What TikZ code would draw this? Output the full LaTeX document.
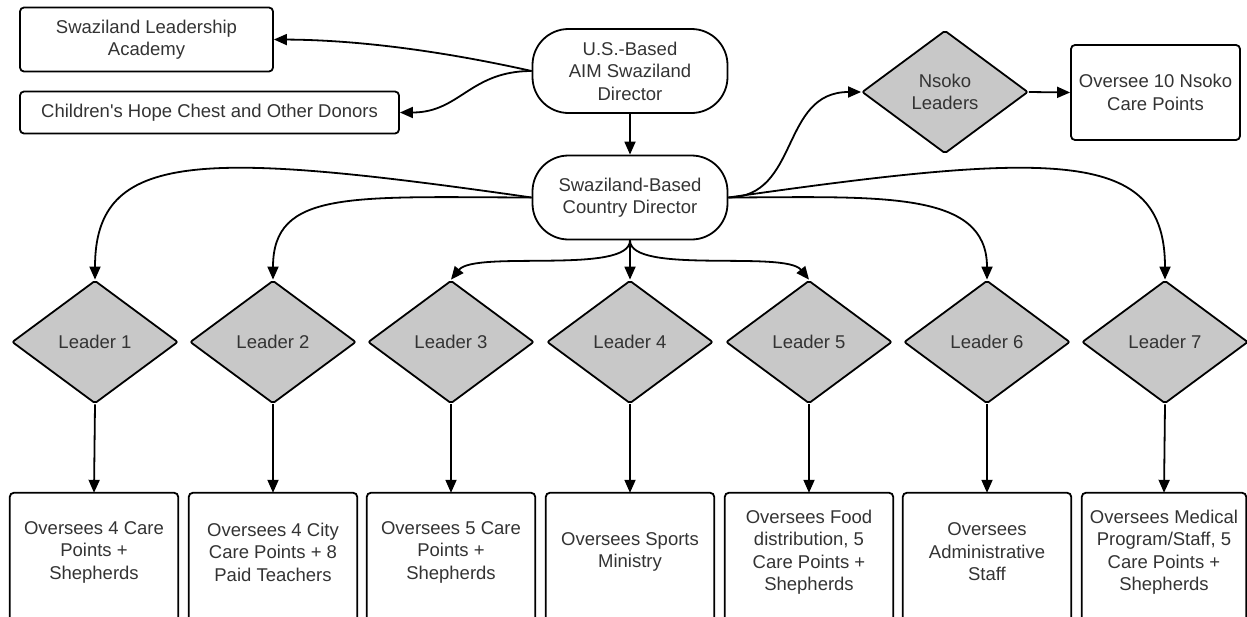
\documentclass[tikz,border=0pt]{standalone}
\usepackage{fontspec}
\setmainfont{Liberation Sans}
\newfontfamily\plainfont{Liberation Sans}
\usetikzlibrary{shapes.geometric,arrows.meta}
\definecolor{txt}{HTML}{333333}
\definecolor{dfill}{HTML}{C8C8C8}
\begin{document}
\begin{tikzpicture}[x=1pt,y=-1pt,
  every node/.style={font=\fontsize{18.5}{22.5}\selectfont, text=txt, align=center, inner sep=0pt},
  sq/.style={draw=black, line width=1.8pt, rounded corners=4pt, fill=white},
  stad/.style={draw=black, line width=1.8pt, rounded corners=36pt, minimum width=195pt, minimum height=84pt},
  dia/.style={diamond, draw=black, line width=1.8pt, fill=dfill, minimum width=166pt, minimum height=123pt, rounded corners=2pt},
  conn/.style={draw=black, line width=1.8pt, -{Triangle[length=13pt,width=11pt]}},
  frame/.style={draw=black, line width=1.8pt, rounded corners=4pt}]
\useasboundingbox (0,0) rectangle (1247,616);

% top nodes
\node[sq, minimum width=253pt, minimum height=64pt] (acad) at (146.5,39.5) {Swaziland Leadership\\Academy};
\node[sq, minimum width=379pt, minimum height=42pt] (donor) at (209.5,112.5) {\plainfont Children's Hope Chest and Other Donors};
\node[stad] (us) at (630,71) {U.S.-Based\\AIM Swaziland\\Director};
\node[stad] (sz) at (630,197.5) {Swaziland-Based\\Country Director};
\node[dia] (ns) at (945,92) {Nsoko\\Leaders};
\node[sq, minimum width=169pt, minimum height=95pt] (nsb) at (1155.5,92.5) {Oversee 10 Nsoko\\Care Points};

% leaders
\node[dia] (l1) at (95,342) {Leader 1};
\node[dia] (l2) at (273,342) {Leader 2};
\node[dia] (l3) at (451,342) {Leader 3};
\node[dia] (l4) at (630,342) {Leader 4};
\node[dia] (l5) at (809,342) {Leader 5};
\node[dia] (l6) at (987,342) {Leader 6};
\node[dia] (l7) at (1165,342) {Leader 7};

% bottom boxes (text nodes, frames drawn separately)
\node[minimum width=168pt, minimum height=118pt] (b1) at (94,552) {Oversees 4 Care\\Points +\\Shepherds};
\node[minimum width=168pt, minimum height=118pt] (b2) at (273,552) {Oversees 4 City\\Care Points + 8\\Paid Teachers};
\node[minimum width=168pt, minimum height=118pt] (b3) at (451,552) {Oversees 5 Care\\Points +\\Shepherds};
\node[minimum width=168pt, minimum height=118pt] (b4) at (630,552) {Oversees Sports\\Ministry};
\node[minimum width=168pt, minimum height=118pt] (b5) at (809,552) {Oversees Food\\distribution, 5\\Care Points +\\Shepherds};
\node[minimum width=168pt, minimum height=118pt] (b6) at (987,552) {Oversees\\Administrative\\Staff};
\node[minimum width=164pt, minimum height=118pt] (b7) at (1164,552) {Oversees Medical\\Program/Staff, 5\\Care Points +\\Shepherds};
\foreach \b in {b1,b2,b3,b4,b5,b6,b7}{
  \draw[frame] ([yshift=-140pt]\b.north west) -- (\b.north west) -- (\b.north east) -- ++(0,140);
}

% connectors
\draw[conn] (us.west) .. controls (460,55) and (370,40) .. (acad.east);
\draw[conn] (us.west) .. controls (470,71) and (460,112.5) .. (donor.east);
\draw[conn] (us.south) -- (sz.north);
\draw[conn] (sz.east) .. controls (800,197) and (780,92) .. (ns.west);
\draw[conn] (ns.east) -- (nsb.west);

\draw[conn] (sz.west) .. controls (200,150) and (95,150) .. (l1.north);
\draw[conn] (sz.west) .. controls (350,197) and (273,190) .. (l2.north);
\draw[conn] (sz.south) .. controls (630,275) and (475,250) .. (l3.north);
\draw[conn] (sz.south) -- (l4.north);
\draw[conn] (sz.south) .. controls (630,275) and (785,250) .. (l5.north);
\draw[conn] (sz.east) .. controls (880,197) and (987,190) .. (l6.north);
\draw[conn] (sz.east) .. controls (1060,150) and (1165,150) .. (l7.north);

\foreach \i in {1,...,7}{
  \draw[conn] (l\i.south) -- (b\i.north);
}
\end{tikzpicture}
\end{document}
